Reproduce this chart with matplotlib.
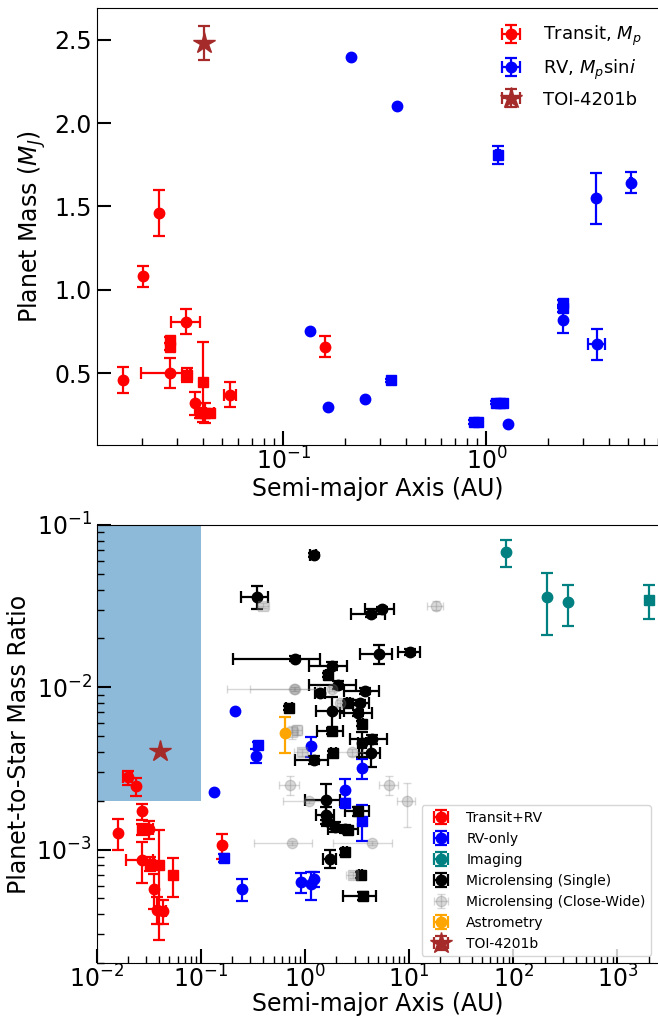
import numpy as np
import matplotlib
matplotlib.use('Agg')
import matplotlib.pyplot as plt

# ---------------- top panel: planet mass ----------------
# transit planets (a [AU], Mp [MJ])
tr_a = [0.0162, 0.0204, 0.0243, 0.0332, 0.0275, 0.0275, 0.0275, 0.0333, 0.0402,
        0.0368, 0.0389, 0.0412, 0.0436, 0.0547, 0.160]
tr_m = [0.46, 1.08, 1.46, 0.81, 0.70, 0.66, 0.50, 0.49, 0.45, 0.32, 0.26, 0.26,
        0.26, 0.37, 0.66]
tr_merr = [0.08, 0.065, 0.14, 0.075, 0.02, 0.02, 0.09, 0.04, 0.24, 0.07, 0.03,
           0.06, 0.02, 0.075, 0.065]
tr_aerr = [0, 0, 0, 0.0054, 0, 0, 0.0076, 0.0015, 0, 0, 0.0015, 0, 0.002, 0.0035, 0]
tr_mk = ['o', 'o', 'o', 'o', 's', 's', 'o', 's', 's', 'o', 's', 's', 's', 'o', 'o']

# RV planets (a [AU], Mp sini [MJ])
rv_a = [0.135, 0.166, 0.215, 0.361, 1.14, 3.46, 5.14, 2.38, 2.38, 2.39, 3.50,
        0.338, 0.251, 1.12, 1.17, 1.21, 0.87, 0.91, 1.28]
rv_m = [0.754, 0.298, 2.394, 2.10, 1.808, 1.548, 1.642, 0.92, 0.89, 0.818, 0.674,
        0.458, 0.346, 0.324, 0.324, 0.324, 0.208, 0.208, 0.196]
rv_merr = [0, 0, 0, 0, 0.055, 0.152, 0.063, 0.02, 0.02, 0.076, 0.092, 0.01, 0,
           0.01, 0.01, 0.01, 0.01, 0.01, 0]
rv_aerr = [0, 0, 0, 0, 0.02, 0, 0.05, 0, 0, 0, 0.33, 0, 0, 0, 0, 0, 0, 0, 0]
rv_mk = ['o', 'o', 'o', 'o', 's', 'o', 'o', 's', 's', 'o', 'o', 's', 'o', 's', 's',
         's', 's', 's', 'o']

toi_a = [0.0404]
toi_m = [2.48]
toi_merr = [0.10]
toi_q = [4.03e-3]

# ---------------- bottom panel: mass ratio ----------------
trv_a = [0.0199, 0.0239, 0.0272, 0.0159, 0.0272, 0.0321, 0.0401, 0.0272, 0.0327,
         0.0359, 0.0538, 0.0384, 0.0432, 0.159]
trv_q = [2.79e-3, 2.45e-3, 1.72e-3, 1.27e-3, 1.33e-3, 1.33e-3, 7.98e-4, 8.68e-4,
         8.2e-4, 5.68e-4, 7.02e-4, 4.27e-4, 4.17e-4, 1.06e-3]
trv_qerr = [0.28e-3, 0.31e-3, 0.19e-3, 0.27e-3, 0.1e-3, 0.17e-3, 0.52e-3, 0.25e-3,
            0.08e-3, 0.14e-3, 0.19e-3, 0.08e-3, 0.07e-3, 0.19e-3]
trv_aerr = [0.002, 0, 0, 0, 0, 0.003, 0, 0.008, 0.003, 0, 0, 0, 0.003, 0]
trv_mk = ['o', 'o', 'o', 'o', 's', 'o', 's', 'o', 's', 'o', 's', 'o', 'o', 'o']

rvo_a = [0.213, 0.135, 0.357, 0.337, 0.167, 0.251, 0.918, 1.14, 1.22, 1.14, 3.56,
         2.43, 2.43, 3.56]
rvo_q = [7.1e-3, 2.27e-3, 4.38e-3, 3.79e-3, 8.9e-4, 5.73e-4, 6.3e-4, 6.1e-4,
         6.6e-4, 4.33e-3, 3.18e-3, 2.34e-3, 1.94e-3, 1.51e-3]
rvo_qerr = [0, 0, 0.2e-3, 0.38e-3, 0.05e-3, 0.09e-3, 0.09e-3, 0.12e-3, 0.07e-3,
            0.63e-3, 0.44e-3, 0.38e-3, 0.1e-3, 0.38e-3]
rvo_aerr = [0] * 14
rvo_mk = ['o', 'o', 's', 'o', 's', 'o', 'o', 'o', 'o', 'o', 'o', 'o', 's', 's']

img_a = [84.5, 210, 332, 2000]
img_q = [0.0679, 0.0359, 0.0333, 0.0345]
img_qerr = [0.0126, 0.015, 0.0095, 0.008]
img_aerr = [0, 0, 0, 0]
img_mk = ['o', 'o', 'o', 's']

ml_a = [1.21, 0.344, 5.46, 4.31, 0.804, 1.83, 5.14, 10.2, 1.68, 2.09, 1.40, 3.78,
        3.36, 2.61, 1.81, 3.26, 3.51, 0.708, 1.81, 4.38, 3.56, 4.31, 1.87, 1.23,
        1.58, 3.26, 1.60, 1.62, 1.95, 2.43, 2.61, 1.74, 2.43, 3.43, 3.59]
ml_q = [0.0654, 0.0362, 0.0304, 0.0283, 0.0150, 0.0136, 0.0161, 0.0165, 0.0119,
        0.0104, 9.28e-3, 9.55e-3, 8.05e-3, 8.0e-3, 7.1e-3, 6.93e-3, 5.96e-3, 7.45e-3,
        5.39e-3, 4.8e-3, 4.54e-3, 3.94e-3, 3.94e-3, 3.55e-3, 2.03e-3, 1.72e-3,
        1.64e-3, 1.49e-3, 1.38e-3, 1.34e-3, 1.32e-3, 8.77e-4, 9.63e-4, 7.0e-4, 5.21e-4]
ml_qerr = [0.002, 0.0057, 0.001, 0.001, 0.0005, 0.0008, 0.0021, 0.0006, 0.0004,
           0.0006, 0.0004, 0.0004, 0.0003, 0.0002, 0.0016, 0.0003, 0.0002, 0.0002,
           0.0002, 0.0003, 0.0008, 0.0007, 0.0001, 0.0002, 0.5e-3, 0.1e-3,
           0.2e-3, 0.1e-3, 0.1e-3, 0.08e-3, 0.05e-3, 0.11e-3, 0.04e-3, 0.03e-3, 0.03e-3]
ml_aerr = [0.08, 0.1, 1.7, 1.55, 0.6, 0.73, 1.75, 2.4, 0.1, 1.0, 0.15, 1.4, 0.8,
           0.1, 0.54, 1.1, 0.1, 0.05, 0.5, 1.7, 0.3, 1.0, 0.1, 0.43, 0.58, 0.85,
           0.32, 0.1, 0.1, 0.78, 0.1, 0.25, 0.1, 0.1, 1.25]
ml_mk = ['o', 'o', 'o', 'o', 'o', 'o', 'o', 'o', 's', 'o', 'o', 'o', 'o', 's', 'o',
         'o', 's', 's', 's', 'o', 'o', 'o', 's', 'o', 'o', 's', 'o', 'o', 'o', 'o',
         's', 'o', 's', 's', 's']

cw_a = [0.399, 18.0, 0.78, 0.80, 0.835, 0.76, 0.93, 2.81, 2.15, 1.81, 0.72, 6.46,
        9.5, 0.746, 4.38, 1.1, 2.9]
cw_q = [0.0319, 0.0319, 9.8e-3, 9.8e-3, 5.47e-3, 5.3e-3, 3.97e-3, 3.97e-3, 8.0e-3,
        9.8e-3, 2.51e-3, 2.51e-3, 1.98e-3, 1.1e-3, 1.1e-3, 1.98e-3, 7.0e-4]
cw_qerr = [0.001, 0.002, 0.0003, 0.0003, 0.0004, 0.0005, 0.0002, 0.0002, 0.0003,
           0.0003, 0.35e-3, 0.35e-3, 0.6e-3, 0.03e-3, 0.03e-3, 0.03e-3, 0.03e-3]
cw_aerr = [0.05, 3.2, 0.6, 0.5, 0.1, 0.1, 0.15, 0.8, 0.1, 0.1, 0.15, 1.3, 1.8,
           0.42, 2.5, 0.48, 0.4]
cw_mk = ['s', 'o', 'o', 'o', 's', 's', 's', 'o', 'o', 'o', 'o', 'o', 'o', 'o', 'o',
         'o', 's']

ast_a = [0.645]
ast_q = [5.22e-3]
ast_qerr = [1.3e-3]
ast_aerr = [0]
ast_mk = ['o']

# shaded region
box_a = [1e-2, 1e-1]
box_q = [2e-3, 1e-1]


def draw(ax, x, y, xerr, yerr, mk, color, label, ms=7.5, cs=4, lw=1.6, alpha=1.0):
    x, y = np.array(x), np.array(y)
    xerr = np.array(xerr, dtype=float)
    yerr = np.array(yerr, dtype=float)
    # no bar (and no cap) where the error is zero
    xerr[xerr <= 0] = np.nan
    yerr[yerr <= 0] = np.nan
    mk = np.array(mk)
    first = True
    for m in ['o', 's', '*']:
        sel = mk == m
        if not sel.any():
            continue
        ax.errorbar(x[sel], y[sel], xerr=xerr[sel], yerr=yerr[sel], fmt=m,
                    color=color, ms=ms, capsize=cs, elinewidth=lw, capthick=lw,
                    alpha=alpha, label=label if first else None)
        first = False


fig = plt.figure(figsize=(6.58, 10.21), dpi=100)
ax1 = fig.add_axes([0.1467, 0.5642, 0.8533, 0.428])
ax2 = fig.add_axes([0.1467, 0.0568, 0.8533, 0.429])

draw(ax1, tr_a, tr_m, tr_aerr, tr_merr, tr_mk, 'red', 'Transit, $M_p$')
draw(ax1, rv_a, rv_m, rv_aerr, rv_merr, rv_mk, 'blue', 'RV, $M_p$sin$i$')
draw(ax1, toi_a, toi_m, [0], toi_merr, ['*'], 'brown', 'TOI-4201b', ms=16)

ax1.set_xscale('log')
ax1.set_xlim(0.012, 7.0)
ax1.set_ylim(0.07, 2.69)
ax1.set_yticks([0.5, 1.0, 1.5, 2.0, 2.5])
ax1.set_xlabel('Semi-major Axis (AU)', fontsize=17, labelpad=2)
ax1.set_ylabel('Planet Mass ($M_J$)', fontsize=17)
ax1.legend(loc='upper right', fontsize=13, frameon=False)

ax2.fill_between(box_a, box_q[0], box_q[1], color='C0', alpha=0.5, lw=0)
draw(ax2, trv_a, trv_q, trv_aerr, trv_qerr, trv_mk, 'red', 'Transit+RV')
draw(ax2, rvo_a, rvo_q, rvo_aerr, rvo_qerr, rvo_mk, 'blue', 'RV-only')
draw(ax2, img_a, img_q, img_aerr, img_qerr, img_mk, 'teal', 'Imaging')
draw(ax2, ml_a, ml_q, ml_aerr, ml_qerr, ml_mk, 'black', 'Microlensing (Single)')
draw(ax2, cw_a, cw_q, cw_aerr, cw_qerr, cw_mk, 'gray', 'Microlensing (Close-Wide)',
     cs=3, lw=1, alpha=0.3)
draw(ax2, ast_a, ast_q, ast_aerr, ast_qerr, ast_mk, 'orange', 'Astrometry')
draw(ax2, toi_a, toi_q, [0], [0], ['*'], 'brown', 'TOI-4201b', ms=16)

ax2.set_xscale('log')
ax2.set_yscale('log')
ax2.set_xlim(1e-2, 2450)
ax2.set_ylim(2e-4, 1e-1)
ax2.set_xlabel('Semi-major Axis (AU)', fontsize=17, labelpad=0)
ax2.set_ylabel('Planet-to-Star Mass Ratio', fontsize=17)
ax2.legend(loc='lower right', fontsize=10)

for ax in (ax1, ax2):
    ax.spines['right'].set_visible(False)
    ax.tick_params(which='both', direction='in', top=False, right=False, labelsize=17)
    ax.tick_params(which='major', length=10, width=1.5)
    ax.tick_params(which='minor', length=5, width=1)
    ax.tick_params(axis='x', which='both', pad=1.5)

fig.savefig('out.png', dpi=100)
